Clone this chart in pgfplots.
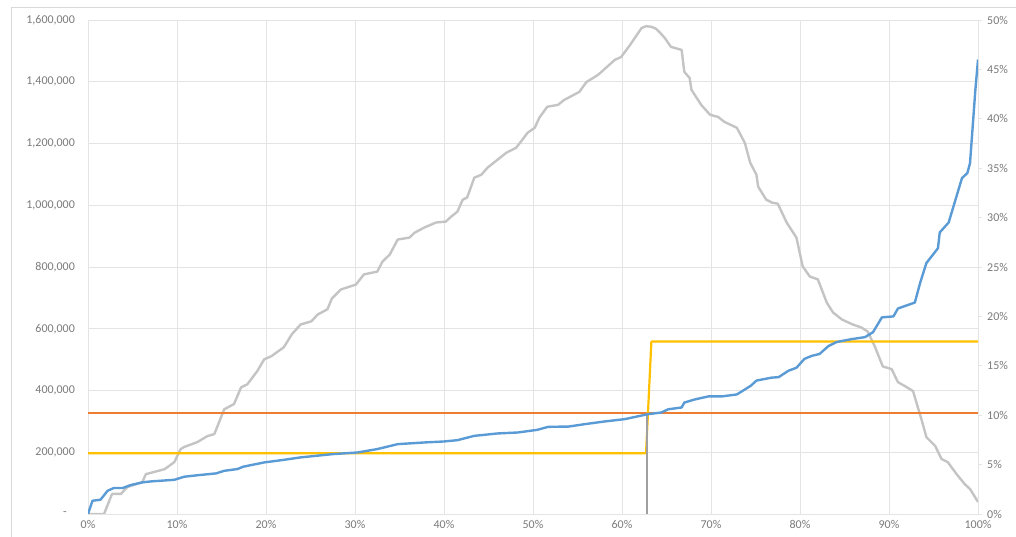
\documentclass[border=0pt]{standalone}
\usepackage{pgfplots}
\pgfplotsset{compat=1.18}
\usepackage{fontspec}
\setmainfont{Carlito}
\definecolor{lblue}{HTML}{5B9BD5}
\definecolor{lgray}{HTML}{C4C4C4}
\definecolor{vgray}{HTML}{A0A0A0}
\definecolor{lorange}{HTML}{ED7D31}
\definecolor{lyellow}{HTML}{FFC000}
\definecolor{gridc}{HTML}{E4E4E4}
\definecolor{framec}{HTML}{D9D9D9}
\definecolor{labc}{HTML}{7A7A7A}
\begin{document}
\begin{tikzpicture}[x=1bp,y=1bp]
\useasboundingbox (0,0) rectangle (1016,537);
\draw[color=framec, line width=0.8bp] (11.5,-5) rectangle (1030,529.5);
\begin{axis}[
  at={(88bp,23bp)}, anchor=south west, scale only axis,
  width=890bp, height=494bp,
  xmin=0, xmax=100, ymin=0, ymax=1600000,
  axis line style={draw=gridc},
  grid=major, major grid style={draw=gridc, line width=0.8bp},
  major tick length=0pt,
  scaled y ticks=false,
  xtick={0,10,...,100},
  xticklabels={0\%,10\%,20\%,30\%,40\%,50\%,60\%,70\%,80\%,90\%,100\%},
  ytick={0,200000,...,1600000},
  yticklabels={{-\hspace*{8bp}},{200,000},{400,000},{600,000},{800,000},{1,000,000},{1,200,000},{1,400,000},{1,600,000}},
  tick label style={font=\fontsize{12}{14}\selectfont, text=labc},
  yticklabel style={anchor=east, inner sep=0pt, xshift=-13bp},
  xticklabel style={anchor=north, inner sep=0pt, yshift=-6bp},
]
\addplot[color=lgray, line width=2.4bp, line join=round] coordinates {
(0,0) (1.5,0) (1.8,0) (2.7,65000) (3.7,65000) (4.4,87000) (6.1,103000) (6.5,129000)
(7.4,136000) (8.6,145000) (9.7,168000) (10.4,210000) (10.8,217000) (12.3,233000)
(13.4,252000) (14.2,259000) (15.3,339000) (16.4,356000) (17.2,410000) (17.9,420000)
(19.0,462000) (19.8,501000) (20.6,511000) (22.0,540000) (22.9,582000) (23.9,614000)
(25.1,624000) (25.8,646000) (26.9,663000) (27.4,698000) (28.4,727000) (30.1,743000)
(31.0,776000) (32.5,785000) (33.1,818000) (33.9,840000) (34.8,889000) (36.1,895000)
(36.7,911000) (37.8,928000) (39.1,944000) (40.2,947000) (40.8,963000) (41.5,979000)
(42.1,1018000) (42.6,1025000) (43.4,1089000) (44.2,1099000) (44.9,1122000) (46.0,1147000)
(47.0,1170000) (48.1,1186000) (48.8,1212000) (49.4,1235000) (50.2,1251000) (50.7,1283000)
(51.6,1319000) (52.8,1325000) (53.5,1341000) (55.2,1367000) (56.0,1399000) (57.3,1422000)
(59.2,1471000) (59.9,1480000) (60.9,1519000) (62.2,1574000) (62.7,1580000) (63.3,1578000)
(63.8,1572000) (64.2,1561000) (64.8,1542000) (65.5,1513000) (66.7,1503000) (67.0,1432000)
(67.6,1412000) (67.8,1374000) (68.9,1325000) (69.9,1293000) (70.8,1286000) (71.5,1270000)
(72.9,1251000) (73.8,1202000) (74.4,1138000) (75.1,1099000) (75.3,1060000) (76.2,1018000)
(76.9,1008000) (77.5,1005000) (78.5,944000) (79.6,895000) (80.3,802000) (81.1,769000)
(82.0,760000) (83.0,685000) (83.7,653000) (84.7,630000) (85.9,614000) (86.9,604000)
(87.6,591000) (88.4,543000) (89.3,478000) (90.3,469000) (91.0,427000) (91.8,414000)
(92.7,398000) (93.7,301000) (94.2,249000) (95.2,220000) (95.9,178000) (96.6,168000)
(97.6,129000) (98.5,97000) (99.1,81000) (100,39000)
};
\end{axis}
\begin{axis}[
  at={(88bp,23bp)}, anchor=south west, scale only axis,
  width=890bp, height=494bp,
  xmin=0, xmax=100, ymin=0, ymax=50,
  axis x line=none, axis y line*=right,
  axis line style={draw=gridc},
  ytick={0,5,...,50},
  yticklabels={0\%,5\%,10\%,15\%,20\%,25\%,30\%,35\%,40\%,45\%,50\%},
  tick align=outside, major tick length=4bp,
  ytick style={draw=gridc, line width=0.8bp},
  tick label style={font=\fontsize{12}{14}\selectfont, text=labc},
  yticklabel style={anchor=west, inner sep=0pt, xshift=5bp},
]
\addplot[color=lorange, line width=2bp] coordinates {(0,10.2) (100,10.2)};
\addplot[color=lyellow, line width=2.2bp, line join=round] coordinates {(0,6.15) (62.7,6.15) (63.3,17.45) (100,17.45)};
\addplot[color=vgray, line width=2bp] coordinates {(62.8,0) (62.8,10.1)};
\addplot[color=lblue, line width=2.4bp, line join=round] coordinates {
(0,0) (0.5,1.34) (1.4,1.44) (2.2,2.35) (2.9,2.63) (3.9,2.63) (4.8,2.93) (6.1,3.2)
(7.1,3.3) (9.7,3.46) (10.8,3.77) (12.5,3.94) (14.4,4.11) (15.3,4.37) (16.8,4.55)
(17.4,4.78) (19.8,5.22) (22.0,5.48) (23.9,5.73) (27.5,6.06) (30.3,6.23) (32.5,6.57)
(34.8,7.07) (37.8,7.24) (40.0,7.34) (41.5,7.47) (43.4,7.91) (46.0,8.15) (48.3,8.25)
(50.5,8.52) (51.7,8.82) (54.0,8.85) (55.8,9.09) (58.0,9.36) (60.3,9.6) (62.9,10.1)
(64.4,10.27) (65.2,10.6) (66.7,10.78) (67.0,11.28) (68.2,11.6) (69.7,11.9) (71.2,11.9)
(72.9,12.1) (73.8,12.6) (74.5,13.0) (75.1,13.5) (76.8,13.8) (77.6,13.85) (78.7,14.5)
(79.6,14.8) (80.5,15.7) (81.3,16.0) (82.2,16.2) (83.2,17.0) (84.1,17.4) (85.8,17.7)
(87.3,17.9) (88.2,18.4) (89.2,19.9) (90.5,20.0) (91.0,20.8) (92.9,21.4) (93.5,23.4)
(94.2,25.4) (95.5,26.9) (95.7,28.5) (96.7,29.5) (97.6,32.2) (98.2,34.0) (98.8,34.5)
(99.1,35.5) (99.7,42.9) (100,46.0)
};
\end{axis}
\end{tikzpicture}
\end{document}
